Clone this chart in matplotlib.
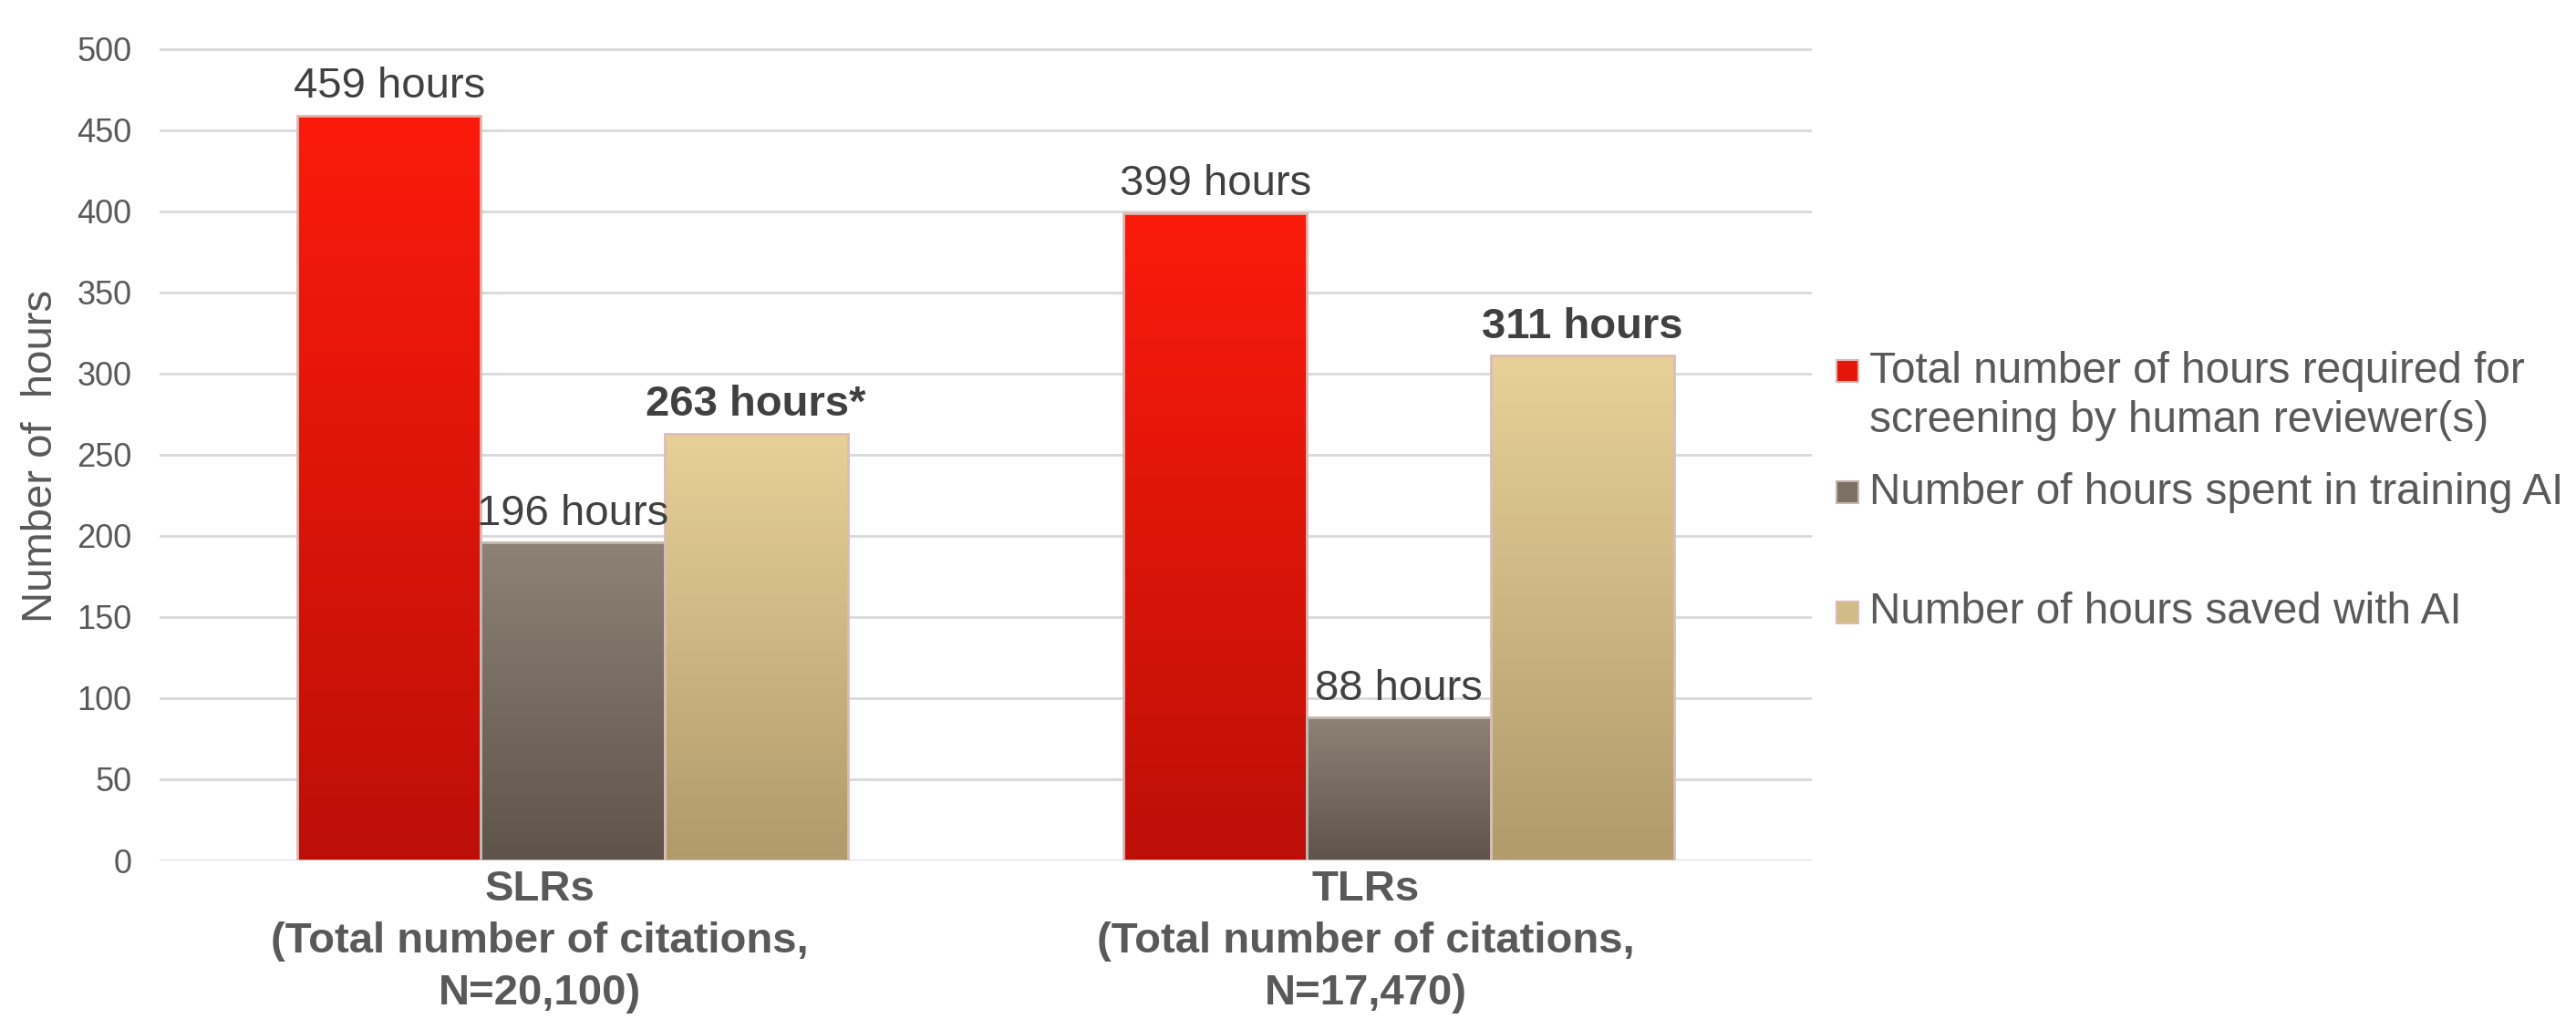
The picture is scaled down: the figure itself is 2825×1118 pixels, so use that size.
import numpy as np
import matplotlib
matplotlib.use("Agg")
import matplotlib.pyplot as plt
import matplotlib.transforms as mtransforms
from matplotlib.colors import LinearSegmentedColormap
from matplotlib.patches import Rectangle

plt.rcParams['font.family'] = ['Liberation Sans', 'DejaVu Sans']

# ---------------- data ----------------
categories = ["SLRs\n(Total number of citations,\nN=20,100)",
              "TLRs\n(Total number of citations,\nN=17,470)"]
series_names = ["Total number of hours required for\nscreening by human reviewer(s)",
                "Number of hours spent in training AI",
                "Number of hours saved with AI"]
human_hours = [459, 399]
training_hours = [196, 88]
saved_hours = [263, 311]
value_labels_human = ["459 hours", "399 hours"]
value_labels_training = ["196 hours", "88 hours"]
value_labels_saved = ["263 hours*", "311 hours"]
y_ticks = [0, 50, 100, 150, 200, 250, 300, 350, 400, 450, 500]
y_label = "Number of  hours"

# ---------------- style ----------------
W, H = 2825, 1118
fig = plt.figure(figsize=(W / 100, H / 100), dpi=100)
ax = fig.add_axes([175 / W, 174 / H, (1987 - 175) / W, 893.6 / H])

series = [human_hours, training_hours, saved_hours]
labels = [value_labels_human, value_labels_training, value_labels_saved]
grad = [("#bd0f08", "#fb1b0b"), ("#5e544a", "#8e8276"), ("#b19a6b", "#e7d198")]
edges = ["#e2b4b0", "#c2b8ae", "#dcbcb4"]
bold = [False, False, True]
bw = 0.222
x = np.arange(len(categories))
offsets = [-bw, 0, bw]

for s, vals in enumerate(series):
    bars = ax.bar(x + offsets[s], vals, width=bw, facecolor="none",
                  edgecolor=edges[s], linewidth=2, zorder=3)
    cmap = LinearSegmentedColormap.from_list(f"g{s}", [grad[s][0], grad[s][1]])
    for b in bars:
        x0, y0 = b.get_x(), b.get_y()
        w, h = b.get_width(), b.get_height()
        im = ax.imshow(np.linspace(0, 1, 256).reshape(-1, 1), cmap=cmap,
                       extent=[x0, x0 + w, y0, y0 + h], origin="lower",
                       aspect="auto", zorder=2, interpolation="bicubic")
        im.set_clip_path(b)
    for xi, v, lab in zip(x, vals, labels[s]):
        ax.annotate(lab, (xi + offsets[s], v), xytext=(0, 14),
                    textcoords="offset points", ha="center", va="baseline",
                    fontsize=34, color="#404040",
                    fontweight="bold" if bold[s] else "normal",
                    annotation_clip=False, zorder=5)

ax.set_xlim(-0.5, 1.5)
ax.set_ylim(0, 502)
ax.set_yticks(y_ticks)
ax.set_yticklabels([str(t) for t in y_ticks])
ax.set_xticks(x)
ax.set_xticklabels(categories, fontsize=34, fontweight="bold", color="#595959",
                   linespacing=1.38, multialignment="center")
ax.tick_params(axis="y", length=0, pad=22, labelsize=26, labelcolor="#595959")
ax.tick_params(axis="x", length=0, pad=7)
shift = mtransforms.ScaledTranslation(-36 / 100, 0, fig.dpi_scale_trans)
for lbl in ax.get_xticklabels():
    lbl.set_transform(lbl.get_transform() + shift)
ax.grid(axis="y", color="#d9d9d9", linewidth=2, zorder=0)
ax.set_axisbelow(True)
for sp in ax.spines.values():
    sp.set_visible(False)

fig.text(45 / W, 1 - 500 / H, y_label, rotation=90, ha="center", va="center",
         fontsize=34, color="#595959")

# ---------------- legend (manual, Excel-style spacing) ----------------
entry_y = [407, 540, 672]
line_step = 55
for s, name in enumerate(series_names):
    yc = entry_y[s]
    cmap = LinearSegmentedColormap.from_list(f"l{s}", [grad[s][0], grad[s][1]])
    fig.patches.append(Rectangle((2014 / W, 1 - (yc + 12) / H), 24 / W, 24 / H,
                                 transform=fig.transFigure,
                                 facecolor=cmap(0.6), edgecolor=edges[s],
                                 linewidth=1.5))
    for i, line in enumerate(name.split("\n")):
        fig.text(2050 / W, 1 - (yc + i * line_step) / H, line, ha="left",
                 va="center", fontsize=34.4, color="#595959")

fig.savefig("out.png", dpi=100, facecolor="white")
